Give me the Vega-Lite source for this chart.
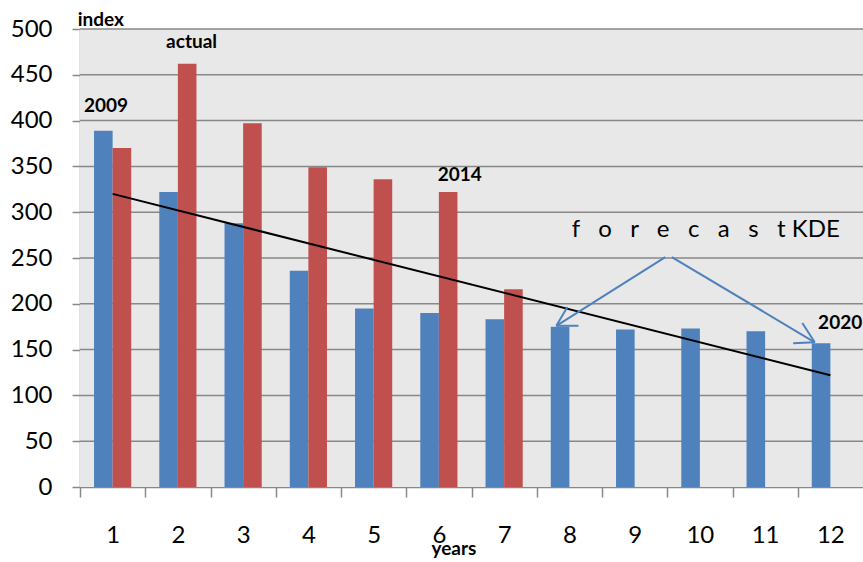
{
  "$schema": "https://vega.github.io/schema/vega-lite/v6.json",
  "autosize": {"type": "none"},
  "padding": {"left": 80, "top": 29, "right": 0, "bottom": 75},
  "width": 783,
  "height": 458,
  "background": "white",
  "config": {
    "font": "Lato",
    "view": {"stroke": null},
    "axis": {
      "labelFont": "Lato",
      "labelFontSize": 24,
      "labelColor": "#000000",
      "domainColor": "#888888",
      "domainWidth": 1.5,
      "tickColor": "#888888",
      "tickWidth": 1.5,
      "title": null
    }
  },
  "datasets": {
    "index": [
      {"year": 1, "series": "forecast KDE", "value": 389},
      {"year": 1, "series": "actual", "value": 370},
      {"year": 2, "series": "forecast KDE", "value": 322},
      {"year": 2, "series": "actual", "value": 462},
      {"year": 3, "series": "forecast KDE", "value": 288},
      {"year": 3, "series": "actual", "value": 397},
      {"year": 4, "series": "forecast KDE", "value": 236},
      {"year": 4, "series": "actual", "value": 349},
      {"year": 5, "series": "forecast KDE", "value": 195},
      {"year": 5, "series": "actual", "value": 336},
      {"year": 6, "series": "forecast KDE", "value": 190},
      {"year": 6, "series": "actual", "value": 322},
      {"year": 7, "series": "forecast KDE", "value": 183},
      {"year": 7, "series": "actual", "value": 216},
      {"year": 8, "series": "forecast KDE", "value": 175},
      {"year": 9, "series": "forecast KDE", "value": 172},
      {"year": 10, "series": "forecast KDE", "value": 173},
      {"year": 11, "series": "forecast KDE", "value": 170},
      {"year": 12, "series": "forecast KDE", "value": 157}
    ],
    "plotBand": [
      {"lo": 0, "hi": 500}
    ],
    "gridlines": [
      {"level": 50}, {"level": 100}, {"level": 150}, {"level": 200}, {"level": 250},
      {"level": 300}, {"level": 350}, {"level": 400}, {"level": 450}, {"level": 500}
    ],
    "trend": [
      {"year": 1, "value": 320},
      {"year": 12, "value": 122}
    ],
    "arrows": [
      {"x": 9.47, "y": 251, "x2": 7.80, "y2": 176},
      {"x": 9.57, "y": 251, "x2": 11.76, "y2": 158},
      {"x": 7.80, "y": 176, "x2": 7.97, "y2": 196.5},
      {"x": 7.80, "y": 176, "x2": 8.14, "y2": 176},
      {"x": 11.76, "y": 158, "x2": 11.57, "y2": 179},
      {"x": 11.76, "y": 158, "x2": 11.43, "y2": 157}
    ],
    "boldLabels": [
      {"x": 0.82, "y": 503, "text": "index"},
      {"x": 2.21, "y": 479, "text": "actual"},
      {"x": 0.90, "y": 409, "text": "2009"},
      {"x": 6.32, "y": 334, "text": "2014"},
      {"x": 12.15, "y": 172.5, "text": "2020"},
      {"x": 6.23, "y": -74, "text": "years"}
    ],
    "plainLabels": [
      {"x": 10.09, "y": 273, "text": "f\u00a0\u00a0\u00a0o\u00a0\u00a0\u00a0r\u00a0\u00a0\u00a0e\u00a0\u00a0\u00a0c\u00a0\u00a0\u00a0a\u00a0\u00a0\u00a0s\u00a0\u00a0\u00a0t\u00a0KDE"}
    ]
  },
  "layer": [
    {
      "layer": [
        {
          "data": {"name": "plotBand"},
          "mark": {"type": "rect", "color": "#e8e8e8"},
          "encoding": {
            "y": {"field": "lo", "type": "quantitative"},
            "y2": {"field": "hi"}
          }
        },
        {
          "data": {"name": "gridlines"},
          "mark": {"type": "rect", "fill": "#888888", "fillOpacity": 0, "stroke": "#888888", "strokeWidth": 1.5},
          "encoding": {
            "y": {"field": "level", "type": "quantitative"},
            "y2": {"field": "level"}
          }
        },
        {
          "data": {"name": "index"},
          "mark": {"type": "bar"},
          "encoding": {
            "x": {
              "field": "year",
              "type": "ordinal",
              "scale": {"paddingInner": 0.43, "paddingOuter": 0.215},
              "axis": {
                "labelAngle": 0,
                "tickOffset": -32.625,
                "labelOffset": 32.625,
                "tickSize": 10,
                "labelPadding": 26,
                "grid": false
              }
            },
            "xOffset": {
              "field": "series",
              "type": "nominal",
              "scale": {"domain": ["forecast KDE", "actual"], "paddingInner": 0, "paddingOuter": 0}
            },
            "y": {
              "field": "value",
              "type": "quantitative",
              "scale": {"domain": [0, 500], "nice": false},
              "axis": {
                "values": [0, 50, 100, 150, 200, 250, 300, 350, 400, 450, 500],
                "tickSize": 8,
                "labelPadding": 20,
                "grid": false
              }
            },
            "color": {
              "field": "series",
              "type": "nominal",
              "scale": {"domain": ["forecast KDE", "actual"], "range": ["#4f81bd", "#c0504d"]},
              "legend": null
            }
          }
        },
        {
          "data": {"name": "trend"},
          "mark": {"type": "line", "color": "#000000", "strokeWidth": 2},
          "encoding": {
            "x": {"field": "year", "type": "ordinal"},
            "y": {"field": "value", "type": "quantitative"}
          }
        }
      ]
    },
    {
      "layer": [
        {
          "data": {"name": "arrows"},
          "mark": {"type": "rule", "color": "#4f81bd", "strokeWidth": 2},
          "encoding": {
            "x": {"field": "x", "type": "quantitative", "scale": {"domain": [0.5, 12.5], "nice": false, "zero": false}, "axis": null},
            "x2": {"field": "x2"},
            "y": {"field": "y", "type": "quantitative"},
            "y2": {"field": "y2"}
          }
        },
        {
          "data": {"name": "boldLabels"},
          "mark": {"type": "text", "font": "Lato", "fontWeight": "bold", "fontSize": 19, "color": "#000000", "align": "center", "baseline": "alphabetic"},
          "encoding": {
            "x": {"field": "x", "type": "quantitative"},
            "y": {"field": "y", "type": "quantitative"},
            "text": {"field": "text"}
          }
        },
        {
          "data": {"name": "plainLabels"},
          "mark": {"type": "text", "font": "Lato", "fontSize": 24, "color": "#000000", "align": "center", "baseline": "alphabetic"},
          "encoding": {
            "x": {"field": "x", "type": "quantitative"},
            "y": {"field": "y", "type": "quantitative"},
            "text": {"field": "text"}
          }
        }
      ]
    }
  ],
  "resolve": {"scale": {"x": "independent"}, "axis": {"x": "independent"}}
}
